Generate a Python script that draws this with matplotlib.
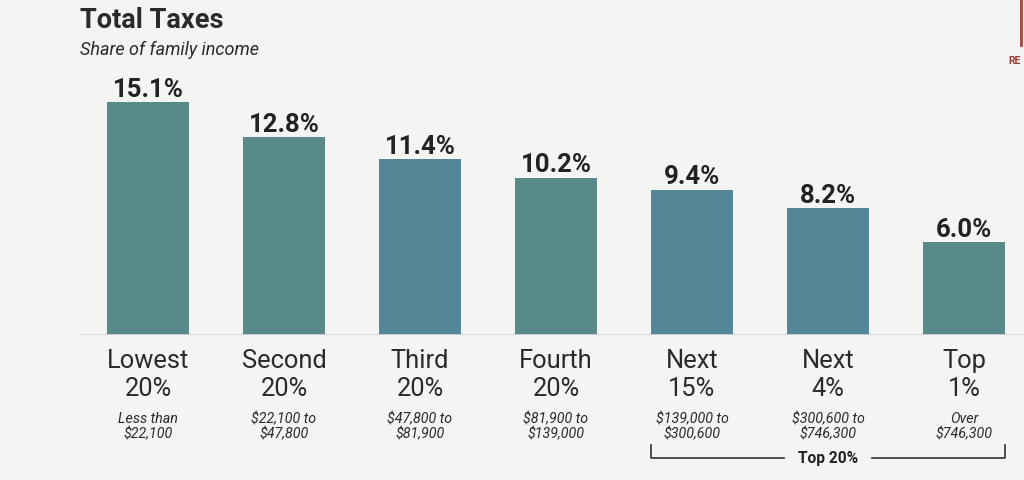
import matplotlib.pyplot as plt

plt.rcParams['font.family'] = ['Roboto', 'DejaVu Sans']

groups = ['Lowest\n20%', 'Second\n20%', 'Third\n20%', 'Fourth\n20%', 'Next\n15%', 'Next\n4%', 'Top\n1%']
ranges = ['Less than\n$22,100', '$22,100 to\n$47,800', '$47,800 to\n$81,900', '$81,900 to\n$139,000',
          '$139,000 to\n$300,600', '$300,600 to\n$746,300', 'Over\n$746,300']
shares = [15.1, 12.8, 11.4, 10.2, 9.4, 8.2, 6.0]

green = '#578a89'
blue = '#538697'
colors = [green, green, blue, green, blue, blue, green]
bg = '#f4f4f2'

fig = plt.figure(figsize=(10.24, 4.81), dpi=100, facecolor=bg)

# axes placed so the baseline sits at y=336px and bar centres are 136px apart
W, H = 1024, 481
ax = fig.add_axes([80 / W, 1 - 336 / H, 952 / W, 247 / H])
ax.set_facecolor('none')
ax.set_xlim(-0.5, 6.5)
ax.set_ylim(0, 16)
for s in ax.spines.values():
    s.set_visible(False)
ax.set_xticks([])
ax.set_yticks([])

x = list(range(len(shares)))
ax.bar(x, shares, width=0.61, color=colors)
ax.axhline(0, color='#dddde2', lw=1.2, xmin=0, xmax=1)

for xi, v in zip(x, shares):
    ax.annotate(f'{v:.1f}%', (xi, v), xytext=(0, 1), textcoords='offset points',
                ha='center', va='bottom', fontsize=18.5, fontweight='bold', color='#222222')

tr = ax.get_xaxis_transform()
for xi, g, r in zip(x, groups, ranges):
    ax.text(xi, -13 / 247, g, transform=tr, ha='center', va='top', fontsize=18.4,
            color='#2a2a2a', linespacing=1.2)
    ax.text(xi, -76 / 247, r, transform=tr, ha='center', va='top', fontsize=10.3,
            style='italic', color='#2a2a2a', linespacing=1.1)

# Top 20% bracket under the last three groups
yb = -123 / 247
yt = -110 / 247
lo, hi = 4 - 0.305, 6 + 0.305
ax.plot([lo, lo, 4.68], [yt, yb, yb], transform=tr, color='#333333', lw=1.2, clip_on=False)
ax.plot([5.32, hi, hi], [yb, yb, yt], transform=tr, color='#333333', lw=1.2, clip_on=False)
ax.text(5, yb, 'Top 20%', transform=tr, ha='center', va='center', fontsize=11.2,
        fontweight='bold', color='#222222')

fig.text(80 / W, 1 - 20 / H, 'Total Taxes', ha='left', va='center', fontsize=19.5,
         fontweight='bold', color='#2a2a2a')
fig.text(80 / W, 1 - 50 / H, 'Share of family income', ha='left', va='center', fontsize=13,
         style='italic', color='#2a2a2a')

# cropped logo fragment at top right
fig.add_artist(plt.Line2D([1021 / W, 1021 / W], [1 - 0 / H, 1 - 46 / H], color='#a8433e', lw=2))
fig.text(1008 / W, 1 - 61 / H, 'RE', ha='left', va='center', fontsize=7.5, fontweight='bold',
         color='#9b3a36')

fig.savefig('out.png', dpi=100, facecolor=bg)
